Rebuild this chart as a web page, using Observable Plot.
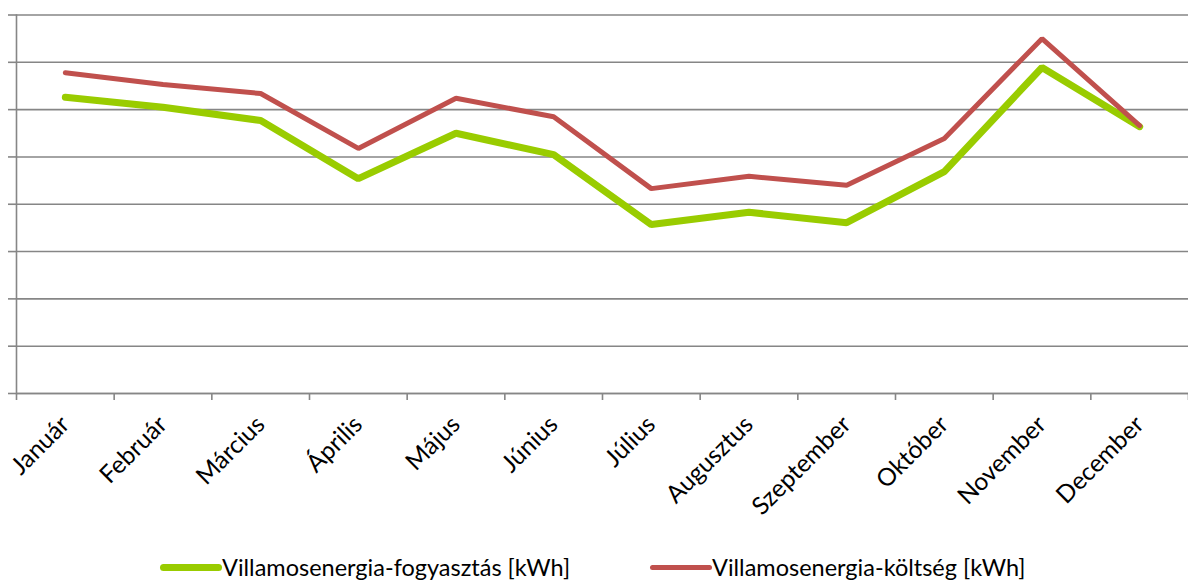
<!DOCTYPE html>
<html>
<head>
<meta charset="utf-8">
<script src="https://cdn.jsdelivr.net/npm/d3@7"></script>
<script src="https://cdn.jsdelivr.net/npm/@observablehq/plot@0.6"></script>
<style>
  html, body { margin: 0; padding: 0; background: #fff; }
  #chart { width: 1188px; height: 581px; position: relative; font-family: Lato, "Open Sans", sans-serif; }
  .legend { position: absolute; left: 0; top: 554px; width: 1188px; height: 26px; font-size: 23.5px; line-height: 26px; color: #000; }
  .item { position: absolute; top: 0; display: flex; align-items: center; height: 26px; }
  .sw { display: inline-block; width: 62px; border-radius: 4px; }
</style>
</head>
<body>
<div id="chart"></div>
<script>
const months = ["Január","Február","Március","Április","Május","Június","Július","Augusztus","Szeptember","Október","November","December"];
const consumption = [6.26, 6.05, 5.77, 4.54, 5.50, 5.05, 3.57, 3.83, 3.61, 4.69, 6.89, 5.64];
const cost = [6.78, 6.53, 6.34, 5.18, 6.24, 5.85, 4.33, 4.59, 4.40, 5.39, 7.50, 5.66];
const seriesNames = ["Villamosenergia-fogyasztás [kWh]", "Villamosenergia-költség [kWh]"];
const colors = ["#99CC00", "#C0504D"];
const gridValues = [0,1,2,3,4,5,6,7,8];

const rows = months.map((m, i) => ({i, m, consumption: consumption[i], cost: cost[i]}));
const idx = months.map((_, i) => i);
const bounds = d3.range(months.length + 1).map(k => k - 0.5);

const plot = Plot.plot({
  width: 1188,
  height: 554,
  marginLeft: 16,
  marginRight: 0,
  marginTop: 14.5,
  marginBottom: 161,
  style: {fontFamily: "Lato, 'Open Sans', sans-serif", fontSize: "24px", color: "#000", background: "#fff"},
  x: {type: "linear", domain: [-0.5, months.length - 0.5]},
  y: {domain: [0, 8]},
  marks: [
    Plot.gridY(gridValues, {stroke: "#868686", strokeOpacity: 1, strokeWidth: 1.6}),
    Plot.axisY(gridValues, {tickSize: 8, tickFormat: () => "", stroke: "#868686", strokeWidth: 1.6, label: null}),
    Plot.frame({anchor: "left", stroke: "#868686", strokeWidth: 1.6}),
    Plot.axisX(bounds, {tickSize: 7, tickFormat: () => "", stroke: "#868686", strokeWidth: 1.6, label: null}),
    Plot.axisX(idx, {tickSize: 0, tickPadding: 27, tickRotate: -45, fontSize: 24.5, tickFormat: i => months[i], label: null, fill: "#000"}),
    Plot.line(rows, {x: "i", y: "consumption", stroke: colors[0], strokeWidth: 7, strokeLinejoin: "miter", strokeLinecap: "round"}),
    Plot.line(rows, {x: "i", y: "cost", stroke: colors[1], strokeWidth: 5, strokeLinejoin: "miter", strokeLinecap: "round"}),
    Plot.ruleY([0], {stroke: "#868686", strokeWidth: 1.6})
  ]
});
const chart = document.getElementById("chart");
chart.appendChild(plot);

const legend = document.createElement("div");
legend.className = "legend";
const lefts = [160, 650];
seriesNames.forEach((name, k) => {
  const it = document.createElement("div");
  it.className = "item";
  it.style.left = lefts[k] + "px";
  const sw = document.createElement("span");
  sw.className = "sw";
  sw.style.background = colors[k];
  sw.style.height = (k === 0 ? 7 : 5) + "px";
  const tx = document.createElement("span");
  tx.textContent = name;
  it.appendChild(sw);
  it.appendChild(tx);
  legend.appendChild(it);
});
chart.appendChild(legend);
</script>
</body>
</html>
